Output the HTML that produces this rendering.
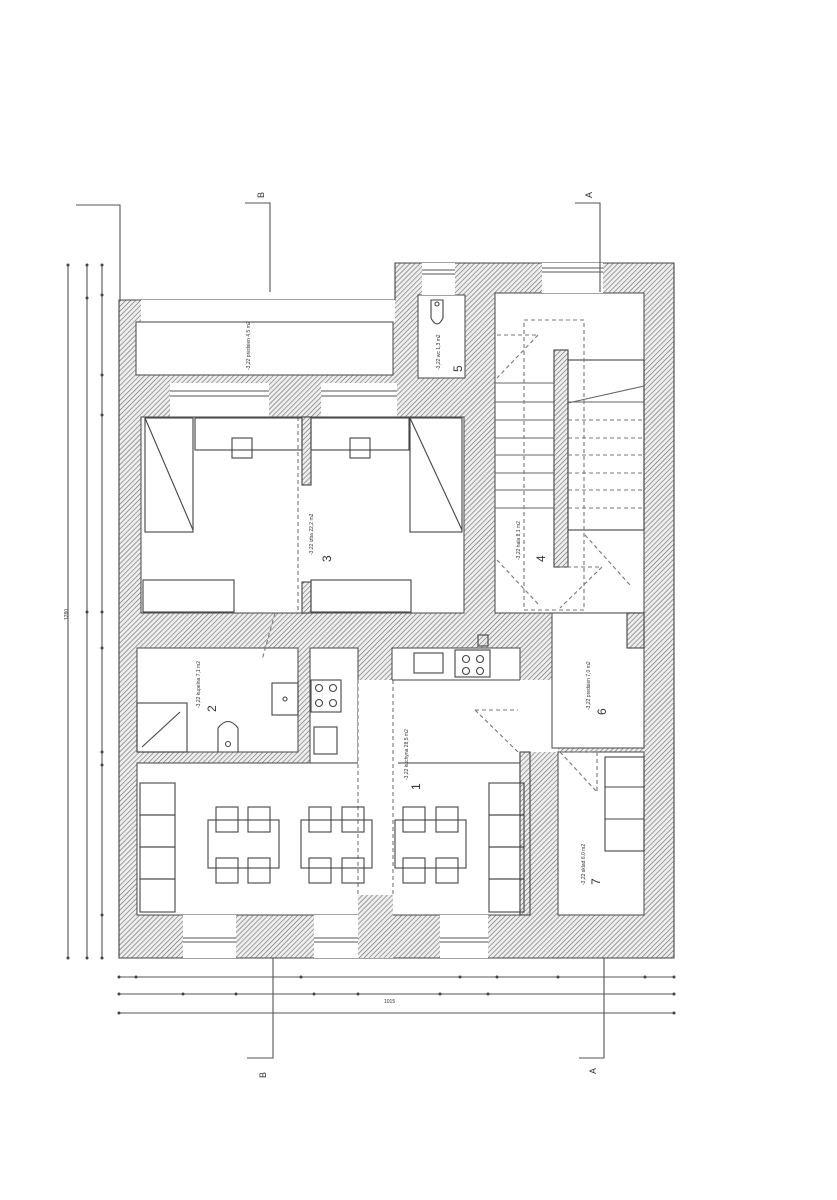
<!DOCTYPE html>
<html><head><meta charset="utf-8"><style>
html,body{margin:0;padding:0;background:#fff;}
svg{display:block;}
text{font-family:"Liberation Sans",sans-serif;fill:#333;}
</style></head><body>
<svg width="837" height="1200" viewBox="0 0 837 1200" xmlns="http://www.w3.org/2000/svg">
<defs>
<pattern id="h" patternUnits="userSpaceOnUse" width="3.5" height="3.5" patternTransform="rotate(45)">
<rect width="3.5" height="3.5" fill="#eee"/><line x1="0" y1="0" x2="0" y2="3.5" stroke="#6a6a6a" stroke-width="1.2"/>
</pattern>
</defs>
<g stroke="#444" stroke-width="1.1" fill="none">
<path d="M119,300 L395,300 L395,263 L674,263 L674,958 L119,958 Z" fill="url(#h)"/>
<g fill="#fff" stroke="#555">
<rect x="141" y="300" width="254" height="22" stroke="none"/>
<rect x="136" y="322" width="257" height="53"/>
<rect x="170" y="383" width="99" height="34" stroke="none"/>
<rect x="321" y="383" width="76" height="34" stroke="none"/>
<rect x="418" y="295" width="47" height="83"/>
<rect x="422" y="263" width="33" height="32" stroke="none"/>
<rect x="495" y="293" width="149" height="320"/>
<rect x="542" y="263" width="61" height="30" stroke="none"/>
<rect x="141" y="417" width="323" height="196"/>
<rect x="137" y="648" width="161" height="104"/>
<rect x="310" y="648" width="48" height="115"/>
<rect x="392" y="648" width="128" height="115"/>
<rect x="137" y="763" width="383" height="152"/>
<rect x="358" y="680" width="40" height="215" stroke="none"/>
<rect x="518" y="680" width="40" height="72" stroke="none"/>
<rect x="552" y="613" width="92" height="135"/>
<rect x="558" y="752" width="86" height="163"/>
<rect x="183" y="915" width="53" height="43" stroke="none"/>
<rect x="314" y="915" width="44" height="43" stroke="none"/>
<rect x="440" y="915" width="48" height="43" stroke="none"/>
</g>
<rect x="554" y="350" width="14" height="217" fill="url(#h)"/>
<rect x="627" y="613" width="17" height="35" fill="url(#h)"/>
<rect x="358" y="895" width="35" height="63" fill="url(#h)" stroke="none"/>
<rect x="302" y="417" width="9" height="68" fill="url(#h)"/>
<rect x="302" y="582" width="9" height="31" fill="url(#h)"/>
<rect x="520" y="752" width="10" height="163" fill="url(#h)"/>
<g stroke="#555">
<line x1="170" y1="391" x2="269" y2="391"/><line x1="170" y1="396" x2="269" y2="396"/>
<line x1="321" y1="391" x2="397" y2="391"/><line x1="321" y1="396" x2="397" y2="396"/>
<line x1="422" y1="270" x2="455" y2="270"/><line x1="422" y1="274" x2="455" y2="274"/>
<line x1="542" y1="268" x2="603" y2="268"/><line x1="542" y1="272" x2="603" y2="272"/>
<line x1="183" y1="938" x2="236" y2="938"/><line x1="183" y1="942" x2="236" y2="942"/>
<line x1="314" y1="938" x2="358" y2="938"/><line x1="314" y1="942" x2="358" y2="942"/>
<line x1="440" y1="938" x2="488" y2="938"/><line x1="440" y1="942" x2="488" y2="942"/>
</g>
<rect x="568" y="360" width="76" height="170"/>
<g stroke="#666">
<line x1="495" y1="383" x2="554" y2="383"/><line x1="495" y1="402" x2="554" y2="402"/>
<line x1="495" y1="420" x2="554" y2="420"/><line x1="495" y1="438" x2="554" y2="438"/>
<line x1="495" y1="455" x2="554" y2="455"/><line x1="495" y1="473" x2="554" y2="473"/>
<line x1="495" y1="490" x2="554" y2="490"/><line x1="495" y1="508" x2="554" y2="508"/>
<line x1="568" y1="402" x2="644" y2="402"/><line x1="568" y1="403" x2="644" y2="386"/>
</g>
<g stroke="#777" stroke-dasharray="4,3">
<rect x="524" y="320" width="60" height="290"/>
<line x1="568" y1="420" x2="644" y2="420"/><line x1="568" y1="438" x2="644" y2="438"/>
<line x1="568" y1="455" x2="644" y2="455"/><line x1="568" y1="473" x2="644" y2="473"/>
<line x1="568" y1="490" x2="644" y2="490"/><line x1="568" y1="508" x2="644" y2="508"/>
<line x1="497" y1="335" x2="538" y2="335"/><line x1="538" y1="335" x2="497" y2="378"/>
<line x1="497" y1="560" x2="540" y2="606"/>
<line x1="560" y1="567" x2="602" y2="567"/><line x1="602" y1="567" x2="560" y2="608"/>
<line x1="585" y1="535" x2="630" y2="585"/>
<line x1="275" y1="613" x2="262" y2="660"/>
<line x1="475" y1="710" x2="518" y2="710"/><line x1="475" y1="710" x2="518" y2="752"/>
<line x1="560" y1="752" x2="597" y2="752"/><line x1="597" y1="752" x2="597" y2="792"/><line x1="560" y1="752" x2="597" y2="792"/>
<line x1="358" y1="680" x2="358" y2="895"/><line x1="393" y1="680" x2="393" y2="895"/>
<line x1="298" y1="417" x2="298" y2="613"/>
</g>
<rect x="145" y="418" width="48" height="114"/><line x1="145" y1="418" x2="193" y2="530"/>
<rect x="195" y="418" width="107" height="32"/><rect x="232" y="438" width="20" height="20"/>
<rect x="143" y="580" width="91" height="32"/>
<rect x="311" y="418" width="98" height="32"/><rect x="350" y="438" width="20" height="20"/>
<rect x="410" y="418" width="52" height="114"/><line x1="410" y1="418" x2="462" y2="530"/>
<rect x="311" y="580" width="100" height="32"/>
<path d="M431,300 L443,300 L443,318 Q437,330 431,318 Z"/><circle cx="437" cy="304" r="2"/>
<rect x="137" y="703" width="50" height="49"/><line x1="142" y1="747" x2="180" y2="712"/>
<path d="M218,752 L218,728 Q228,715 238,728 L238,752"/><circle cx="228" cy="744" r="2.5"/>
<rect x="272" y="683" width="26" height="32"/><circle cx="285" cy="699" r="2"/>
<rect x="311" y="680" width="30" height="32"/><circle cx="319" cy="688" r="3.5"/><circle cx="333" cy="688" r="3.5"/><circle cx="319" cy="703" r="3.5"/><circle cx="333" cy="703" r="3.5"/>
<rect x="314" y="727" width="23" height="27"/>
<rect x="414" y="653" width="29" height="20"/>
<rect x="455" y="650" width="35" height="27"/><circle cx="466" cy="659" r="3.5"/><circle cx="480" cy="659" r="3.5"/><circle cx="466" cy="671" r="3.5"/><circle cx="480" cy="671" r="3.5"/>
<rect x="478" y="635" width="10" height="11"/>
<line x1="392" y1="680" x2="520" y2="680"/>
<g>
<rect x="140" y="783" width="35" height="32"/><rect x="140" y="815" width="35" height="32"/>
<rect x="140" y="847" width="35" height="32"/><rect x="140" y="879" width="35" height="33"/>
<rect x="489" y="783" width="35" height="32"/><rect x="489" y="815" width="35" height="32"/>
<rect x="489" y="847" width="35" height="32"/><rect x="489" y="879" width="35" height="33"/>
</g>
<g>
<rect x="208" y="820" width="71" height="48"/><rect x="301" y="820" width="71" height="48"/><rect x="395" y="820" width="71" height="48"/>
<rect x="216" y="807" width="22" height="25"/><rect x="248" y="807" width="22" height="25"/>
<rect x="216" y="858" width="22" height="25"/><rect x="248" y="858" width="22" height="25"/>
<rect x="309" y="807" width="22" height="25"/><rect x="342" y="807" width="22" height="25"/>
<rect x="309" y="858" width="22" height="25"/><rect x="342" y="858" width="22" height="25"/>
<rect x="403" y="807" width="22" height="25"/><rect x="436" y="807" width="22" height="25"/>
<rect x="403" y="858" width="22" height="25"/><rect x="436" y="858" width="22" height="25"/>
</g>
<rect x="605" y="757" width="39" height="94"/><line x1="605" y1="787" x2="644" y2="787"/><line x1="605" y1="819" x2="644" y2="819"/>
<g stroke="#555">
<polyline points="76,205 120,205 120,300"/>
<polyline points="245,203 270,203 270,292"/>
<polyline points="575,203 600,203 600,292"/>
<polyline points="247,1058 273,1058 273,958"/>
<polyline points="579,1058 604,1058 604,958"/>
<line x1="68" y1="265" x2="68" y2="958"/><line x1="87" y1="265" x2="87" y2="958"/><line x1="102" y1="265" x2="102" y2="958"/>
<line x1="119" y1="977" x2="674" y2="977"/><line x1="119" y1="994" x2="674" y2="994"/><line x1="119" y1="1013" x2="674" y2="1013"/>
</g>
</g>
<g fill="#444">
<circle cx="68" cy="265" r="1.5"/><circle cx="87" cy="265" r="1.5"/><circle cx="102" cy="265" r="1.5"/>
<circle cx="87" cy="298" r="1.5"/><circle cx="102" cy="295" r="1.5"/><circle cx="102" cy="375" r="1.5"/><circle cx="102" cy="415" r="1.5"/><circle cx="102" cy="612" r="1.5"/><circle cx="102" cy="648" r="1.5"/><circle cx="102" cy="752" r="1.5"/><circle cx="102" cy="765" r="1.5"/><circle cx="102" cy="915" r="1.5"/>
<circle cx="87" cy="612" r="1.5"/><circle cx="68" cy="958" r="1.5"/><circle cx="87" cy="958" r="1.5"/><circle cx="102" cy="958" r="1.5"/>
<circle cx="119" cy="977" r="1.5"/><circle cx="136" cy="977" r="1.5"/><circle cx="301" cy="977" r="1.5"/><circle cx="460" cy="977" r="1.5"/><circle cx="497" cy="977" r="1.5"/><circle cx="558" cy="977" r="1.5"/><circle cx="645" cy="977" r="1.5"/><circle cx="674" cy="977" r="1.5"/>
<circle cx="119" cy="994" r="1.5"/><circle cx="183" cy="994" r="1.5"/><circle cx="236" cy="994" r="1.5"/><circle cx="314" cy="994" r="1.5"/><circle cx="358" cy="994" r="1.5"/><circle cx="440" cy="994" r="1.5"/><circle cx="488" cy="994" r="1.5"/><circle cx="674" cy="994" r="1.5"/>
<circle cx="119" cy="1013" r="1.5"/><circle cx="674" cy="1013" r="1.5"/>
</g>
<g font-size="9">
<text transform="translate(264,198) rotate(-90)">B</text>
<text transform="translate(592,198) rotate(-90)">A</text>
<text transform="translate(266,1078) rotate(-90)">B</text>
<text transform="translate(596,1074) rotate(-90)">A</text>
</g>
<g font-size="12">
<text transform="translate(216,712) rotate(-90)">2</text>
<text transform="translate(331,562) rotate(-90)">3</text>
<text transform="translate(545,562) rotate(-90)">4</text>
<text transform="translate(462,372) rotate(-90)">5</text>
<text transform="translate(606,715) rotate(-90)">6</text>
<text transform="translate(600,885) rotate(-90)">7</text>
<text transform="translate(420,790) rotate(-90)">1</text>
</g>
<g font-size="5">
<text transform="translate(250,370) rotate(-90)">-3,22 predsien 4,5 m2</text>
<text transform="translate(313,555) rotate(-90)">-3,22 izba 22,2 m2</text>
<text transform="translate(200,708) rotate(-90)">-3,22 kupelna 7,1 m2</text>
<text transform="translate(408,780) rotate(-90)">-3,22 kuchyna 28,5 m2</text>
<text transform="translate(590,710) rotate(-90)">-3,22 predsien 7,0 m2</text>
<text transform="translate(585,885) rotate(-90)">-3,22 sklad 6,0 m2</text>
<text transform="translate(520,560) rotate(-90)">-3,22 hala 8,1 m2</text>
<text transform="translate(440,370) rotate(-90)">-3,22 wc 1,3 m2</text>
<text transform="translate(68,620) rotate(-90)">1280</text>
<text transform="translate(384,1003)">1015</text>
</g>
</svg>
</body></html>
